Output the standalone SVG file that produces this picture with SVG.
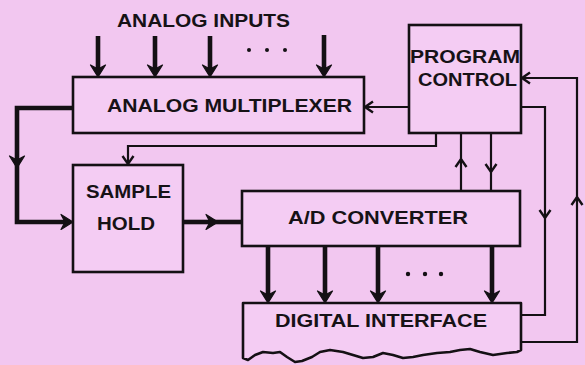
<svg xmlns="http://www.w3.org/2000/svg" width="585" height="365" viewBox="0 0 585 365">
<style>
.box{fill:#f4ccf3;stroke:#141014;stroke-width:2.6}
.lbl{font-family:"Liberation Sans",Arial,sans-serif;font-weight:bold;font-size:18.5px;fill:#161216}
.thick{fill:none;stroke:#141014;stroke-width:4.6}
.thin{fill:none;stroke:#141014;stroke-width:2.2}
.dot{fill:#141014}
</style>
<defs>
<marker id="th" markerUnits="userSpaceOnUse" orient="auto" refX="0" refY="0" markerWidth="30" markerHeight="30" viewBox="-15 -15 30 30" overflow="visible">
<path d="M4,0 L-8,-7.5 L-4,0 L-8,7.5 Z" fill="#141014" stroke="#141014" stroke-width="1.2" stroke-linejoin="round"/>
</marker>
<marker id="tn" markerUnits="userSpaceOnUse" orient="auto" refX="0" refY="0" markerWidth="30" markerHeight="30" viewBox="-15 -15 30 30" overflow="visible">
<path d="M-8,-5.5 L0,0 L-8,5.5" fill="none" stroke="#141014" stroke-width="2.4"/>
</marker>
</defs>
<rect width="585" height="365" fill="#f2c7f0"/>
<text class="lbl" x="117" y="27" textLength="173" lengthAdjust="spacingAndGlyphs" font-size="16.5">ANALOG INPUTS</text>
<g id="dots-top"><circle class="dot" cx="249" cy="50" r="2"/><circle class="dot" cx="267" cy="50" r="2"/><circle class="dot" cx="285" cy="50" r="2"/></g>
<g id="dots-bottom"><circle class="dot" cx="408" cy="274" r="2.2"/><circle class="dot" cx="425" cy="274" r="2.2"/><circle class="dot" cx="441" cy="274" r="2.2"/></g>
<g id="mux">
<rect class="box" x="73" y="77" width="291" height="56"/>
<text class="lbl" x="107" y="112" textLength="245" lengthAdjust="spacingAndGlyphs">ANALOG MULTIPLEXER</text>
</g>
<g id="program-control">
<rect class="box" x="409" y="25" width="112" height="108"/>
<text class="lbl" x="410" y="63" textLength="110" lengthAdjust="spacingAndGlyphs">PROGRAM</text>
<text class="lbl" x="418" y="86" textLength="99" lengthAdjust="spacingAndGlyphs">CONTROL</text>
</g>
<g id="sample-hold">
<rect class="box" x="73" y="165" width="110" height="107"/>
<text class="lbl" x="86" y="198" textLength="85" lengthAdjust="spacingAndGlyphs">SAMPLE</text>
<text class="lbl" x="97" y="230" textLength="58" lengthAdjust="spacingAndGlyphs">HOLD</text>
</g>
<g id="ad-converter">
<rect class="box" x="242" y="191" width="278" height="55"/>
<text class="lbl" x="288" y="224" textLength="180" lengthAdjust="spacingAndGlyphs">A/D CONVERTER</text>
</g>
<g id="digital-interface">
<path class="box" stroke-linejoin="round" d="M243,358 V303 H521 V350 L517,352 L507,353 L493,355 L480,352 L470,349 L460,350 L450,352 L437,353 L423,355 L413,357 L403,358 L393,355 L383,353 L373,357 L363,358 L353,355 L343,352 L330,350 L320,352 L312,357 L302,361 L295,362 L287,357 L280,352 L273,353 L263,352 L255,355 L248,360 Z"/>
<text class="lbl" x="275" y="327" textLength="212" lengthAdjust="spacingAndGlyphs">DIGITAL INTERFACE</text>
</g>
<g id="connectors">
<path class="thick" d="M98,36 V73" marker-end="url(#th)"/>
<path class="thick" d="M155,36 V73" marker-end="url(#th)"/>
<path class="thick" d="M210,36 V73" marker-end="url(#th)"/>
<path class="thick" d="M324,35 V73" marker-end="url(#th)"/>
<path class="thick" d="M73,108 H17 V164" marker-end="url(#th)"/>
<path class="thick" d="M17,160 V222 H69" marker-end="url(#th)"/>
<path class="thick" d="M183,222 H214" marker-end="url(#th)"/>
<path class="thick" d="M210,222 H242"/>
<path class="thick" d="M268,246 V299" marker-end="url(#th)"/>
<path class="thick" d="M325,246 V299" marker-end="url(#th)"/>
<path class="thick" d="M378,246 V299" marker-end="url(#th)"/>
<path class="thick" d="M492,246 V299" marker-end="url(#th)"/>
<path class="thin" d="M409,107 H365" marker-end="url(#tn)"/>
<path class="thin" d="M436,133 V146 H128 V164" marker-end="url(#tn)"/>
<path class="thin" d="M461,191 V159" marker-end="url(#tn)"/>
<path class="thin" d="M461,160 V133"/>
<path class="thin" d="M491,133 V172" marker-end="url(#tn)"/>
<path class="thin" d="M491,171 V191"/>
<path class="thin" d="M521,107 H545 V218" marker-end="url(#tn)"/>
<path class="thin" d="M545,217 V315 H521"/>
<path class="thin" d="M521,342 H577 V197" marker-end="url(#tn)"/>
<path class="thin" d="M577,198 V78 H522" marker-end="url(#tn)"/>
</g>
</svg>
